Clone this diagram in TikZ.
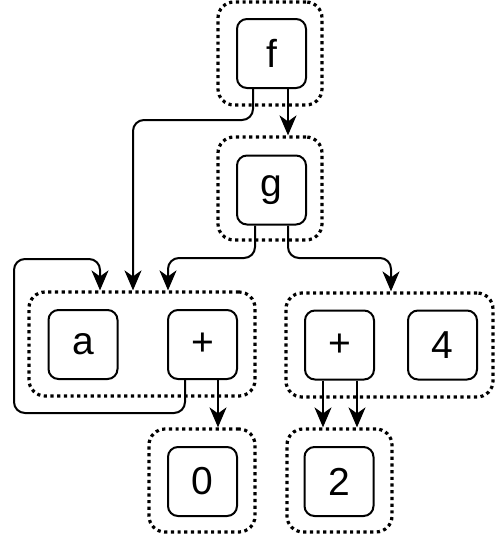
\documentclass[tikz,border=0pt]{standalone}
\usepackage{fontspec}
\setmainfont{Liberation Sans}
\usetikzlibrary{arrows.meta}
\begin{document}
\begin{tikzpicture}[x=1pt,y=-1pt,
  inner/.style={draw,line width=2pt,rounded corners=10pt,minimum width=69pt,minimum height=69pt,inner sep=0pt,font=\fontsize{39}{44}\selectfont},
  outer/.style={draw,line width=3.2pt,dash pattern=on 3.2pt off 3.5pt,rounded corners=16pt,inner sep=0pt},
  conn/.style={line width=2pt,rounded corners=11pt,-{Stealth[length=20pt,width=17pt,inset=6pt]}}]
\useasboundingbox (0,0) rectangle (498,560);
% groups
\node[outer,minimum width=104pt,minimum height=103pt] (fo) at (270,53.5) {};
\node[outer,minimum width=104pt,minimum height=103pt] (go) at (270,188.5) {};
\node[outer,minimum width=226pt,minimum height=104pt] (Lo) at (142,344) {};
\node[outer,minimum width=207pt,minimum height=104pt] (Ro) at (389.5,345) {};
\node[outer,minimum width=106pt,minimum height=103pt] (Zo) at (202,480.5) {};
\node[outer,minimum width=105pt,minimum height=103pt] (To) at (339.5,480.5) {};
% inner nodes
\node[inner] (f) at (271.5,53.5) {f};
\node[inner] (g) at (271.5,190) {g};
\node[inner] (a) at (83,344.5) {a};
\node[inner] (pl) at (202.5,344.5) {+};
\node[inner] (pr) at (339.5,345) {+};
\node[inner] (four) at (442.5,345) {4};
\node[inner] (zero) at (202.5,481.5) {0};
\node[inner] (two) at (339,481.5) {2};
% helper coordinates
\coordinate (x14) at (14,0);
\coordinate (x100) at (100,0);
\coordinate (x133) at (133,0);
\coordinate (x168) at (168,0);
\coordinate (x185) at (185,0);
\coordinate (x218) at (218,0);
\coordinate (x253) at (253,0);
\coordinate (x255) at (255,0);
\coordinate (x288) at (288,0);
\coordinate (x323) at (323,0);
\coordinate (x357) at (357,0);
\coordinate (x391) at (391,0);
\coordinate (y120) at (0,120);
\coordinate (y258) at (0,258);
\coordinate (y259) at (0,259);
\coordinate (y413) at (0,413);
% connectors
\draw[conn] (f.south -| x288) -- (fo.south -| x288) -- (go.north -| x288);
\draw[conn] (f.south -| x253) -- (x253 |- y120) -- (x133 |- y120) -- (Lo.north -| x133);
\draw[conn] (g.south -| x255) -- (x255 |- y258) -- (x168 |- y258) -- (Lo.north -| x168);
\draw[conn] (g.south -| x288) -- (x288 |- y258) -- (x391 |- y258) -- (Ro.north -| x391);
\draw[conn] (pl.south -| x185) -- (x185 |- y413) -- (x14 |- y413) -- (x14 |- y259) -- (x100 |- y259) -- (Lo.north -| x100);
\draw[conn] (pl.south -| x218) -- (Zo.north -| x218);
\draw[conn] (pr.south -| x323) -- (To.north -| x323);
\draw[conn] (pr.south -| x357) -- (To.north -| x357);
\end{tikzpicture}
\end{document}
